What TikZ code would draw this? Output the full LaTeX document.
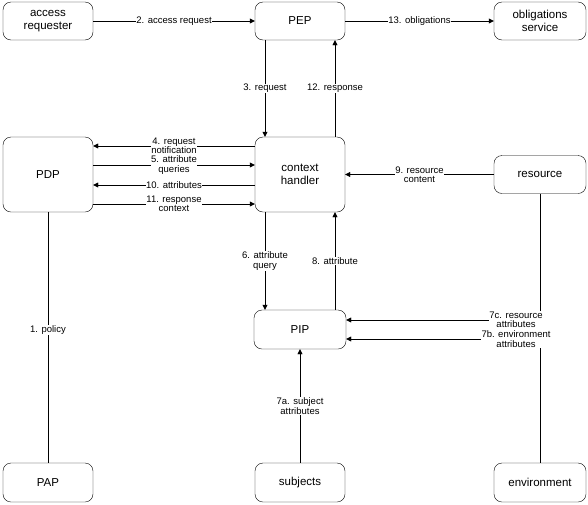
\documentclass[tikz,border=0pt]{standalone}
\usepackage{fontspec}
\setmainfont{Liberation Sans}
\usetikzlibrary{arrows.meta}
\tikzset{
  box/.style={draw, rounded corners=8pt, minimum width=90pt, minimum height=38pt,
    align=center, inner sep=2pt, font=\fontsize{11.5}{13}\selectfont},
  lbl/.style={fill=white, inner sep=0.5pt, align=center, font=\fontsize{9.5}{9.5}\selectfont},
  flow/.style={-{Triangle[length=5pt,width=5pt]}}
}

\begin{document}
\begin{tikzpicture}[x=1pt,y=-1pt]
  \useasboundingbox (0,0) rectangle (588,504);
  % Boxes
  \node[box] (req) at (48,21) {access\\requester};
  \node[box] (pep) at (300,21) {PEP};
  \node[box, minimum width=92pt] (obl) at (540,21) {obligations\\service};
  \node[box, minimum height=75pt] (pdp) at (48,174.5) {PDP};
  \node[box, minimum height=75pt] (ctx) at (300,174.5) {context\\handler};
  \node[box, minimum width=92pt] (res) at (540,174.5) {resource};
  \node[box, minimum width=92pt, minimum height=39pt] (pip) at (300,329.5) {PIP};
  \node[box, minimum height=39pt] (pap) at (48,482.5) {PAP};
  \node[box, minimum height=39pt] (subj) at (300,482.5) {subjects};
  \node[box, minimum width=92pt, minimum height=39pt] (env) at (540,482.5) {environment};
  % PEP flows
  \draw[flow] (req) -- node[lbl]{2. access request} (pep);
  \draw[flow] (pep) -- node[lbl]{13. obligations} (obl);
  \draw[flow] ([xshift=-35pt]pep.south) -- node[lbl]{3. request} ([xshift=-35pt]ctx.north);
  \draw[flow] ([xshift=35pt]ctx.north) -- node[lbl]{12. response} ([xshift=35pt]pep.south);
  % PDP <-> context handler
  \draw[flow] ([yshift=28.5pt]ctx.west) -- node[lbl]{4. request\\notification} ([yshift=28.5pt]pdp.east);
  \draw[flow] ([yshift=9.5pt]pdp.east) -- node[lbl]{5. attribute\\queries} ([yshift=9.5pt]ctx.west);
  \draw[flow] ([yshift=-10.5pt]ctx.west) -- node[lbl]{10. attributes} ([yshift=-10.5pt]pdp.east);
  \draw[flow] ([yshift=-29.5pt]pdp.east) -- node[lbl]{11. response\\context} ([yshift=-29.5pt]ctx.west);
  \draw (pdp) -- node[lbl, pos=0.47]{1. policy} (pap);
  % Resource
  \draw[flow] (res) -- node[lbl]{9. resource\\content} (ctx);
  % PIP
  \draw[flow] ([xshift=-35pt]ctx.south) -- node[lbl]{6. attribute\\query} ([xshift=-35pt]pip.north);
  \draw[flow] ([xshift=35pt]pip.north) -- node[lbl]{8. attribute} ([xshift=35pt]ctx.south);
  \draw[flow] (subj) -- node[lbl]{7a. subject\\attributes} (pip);
  \draw[flow] (res) |- node[lbl, pos=0.5, xshift=-24pt]{7c. resource\\attributes} ([yshift=9.5pt]pip.east);
  \draw[flow] (env) |- node[lbl, pos=0.5, xshift=-24pt]{7b. environment\\attributes} ([yshift=-9.5pt]pip.east);
\end{tikzpicture}
\end{document}
